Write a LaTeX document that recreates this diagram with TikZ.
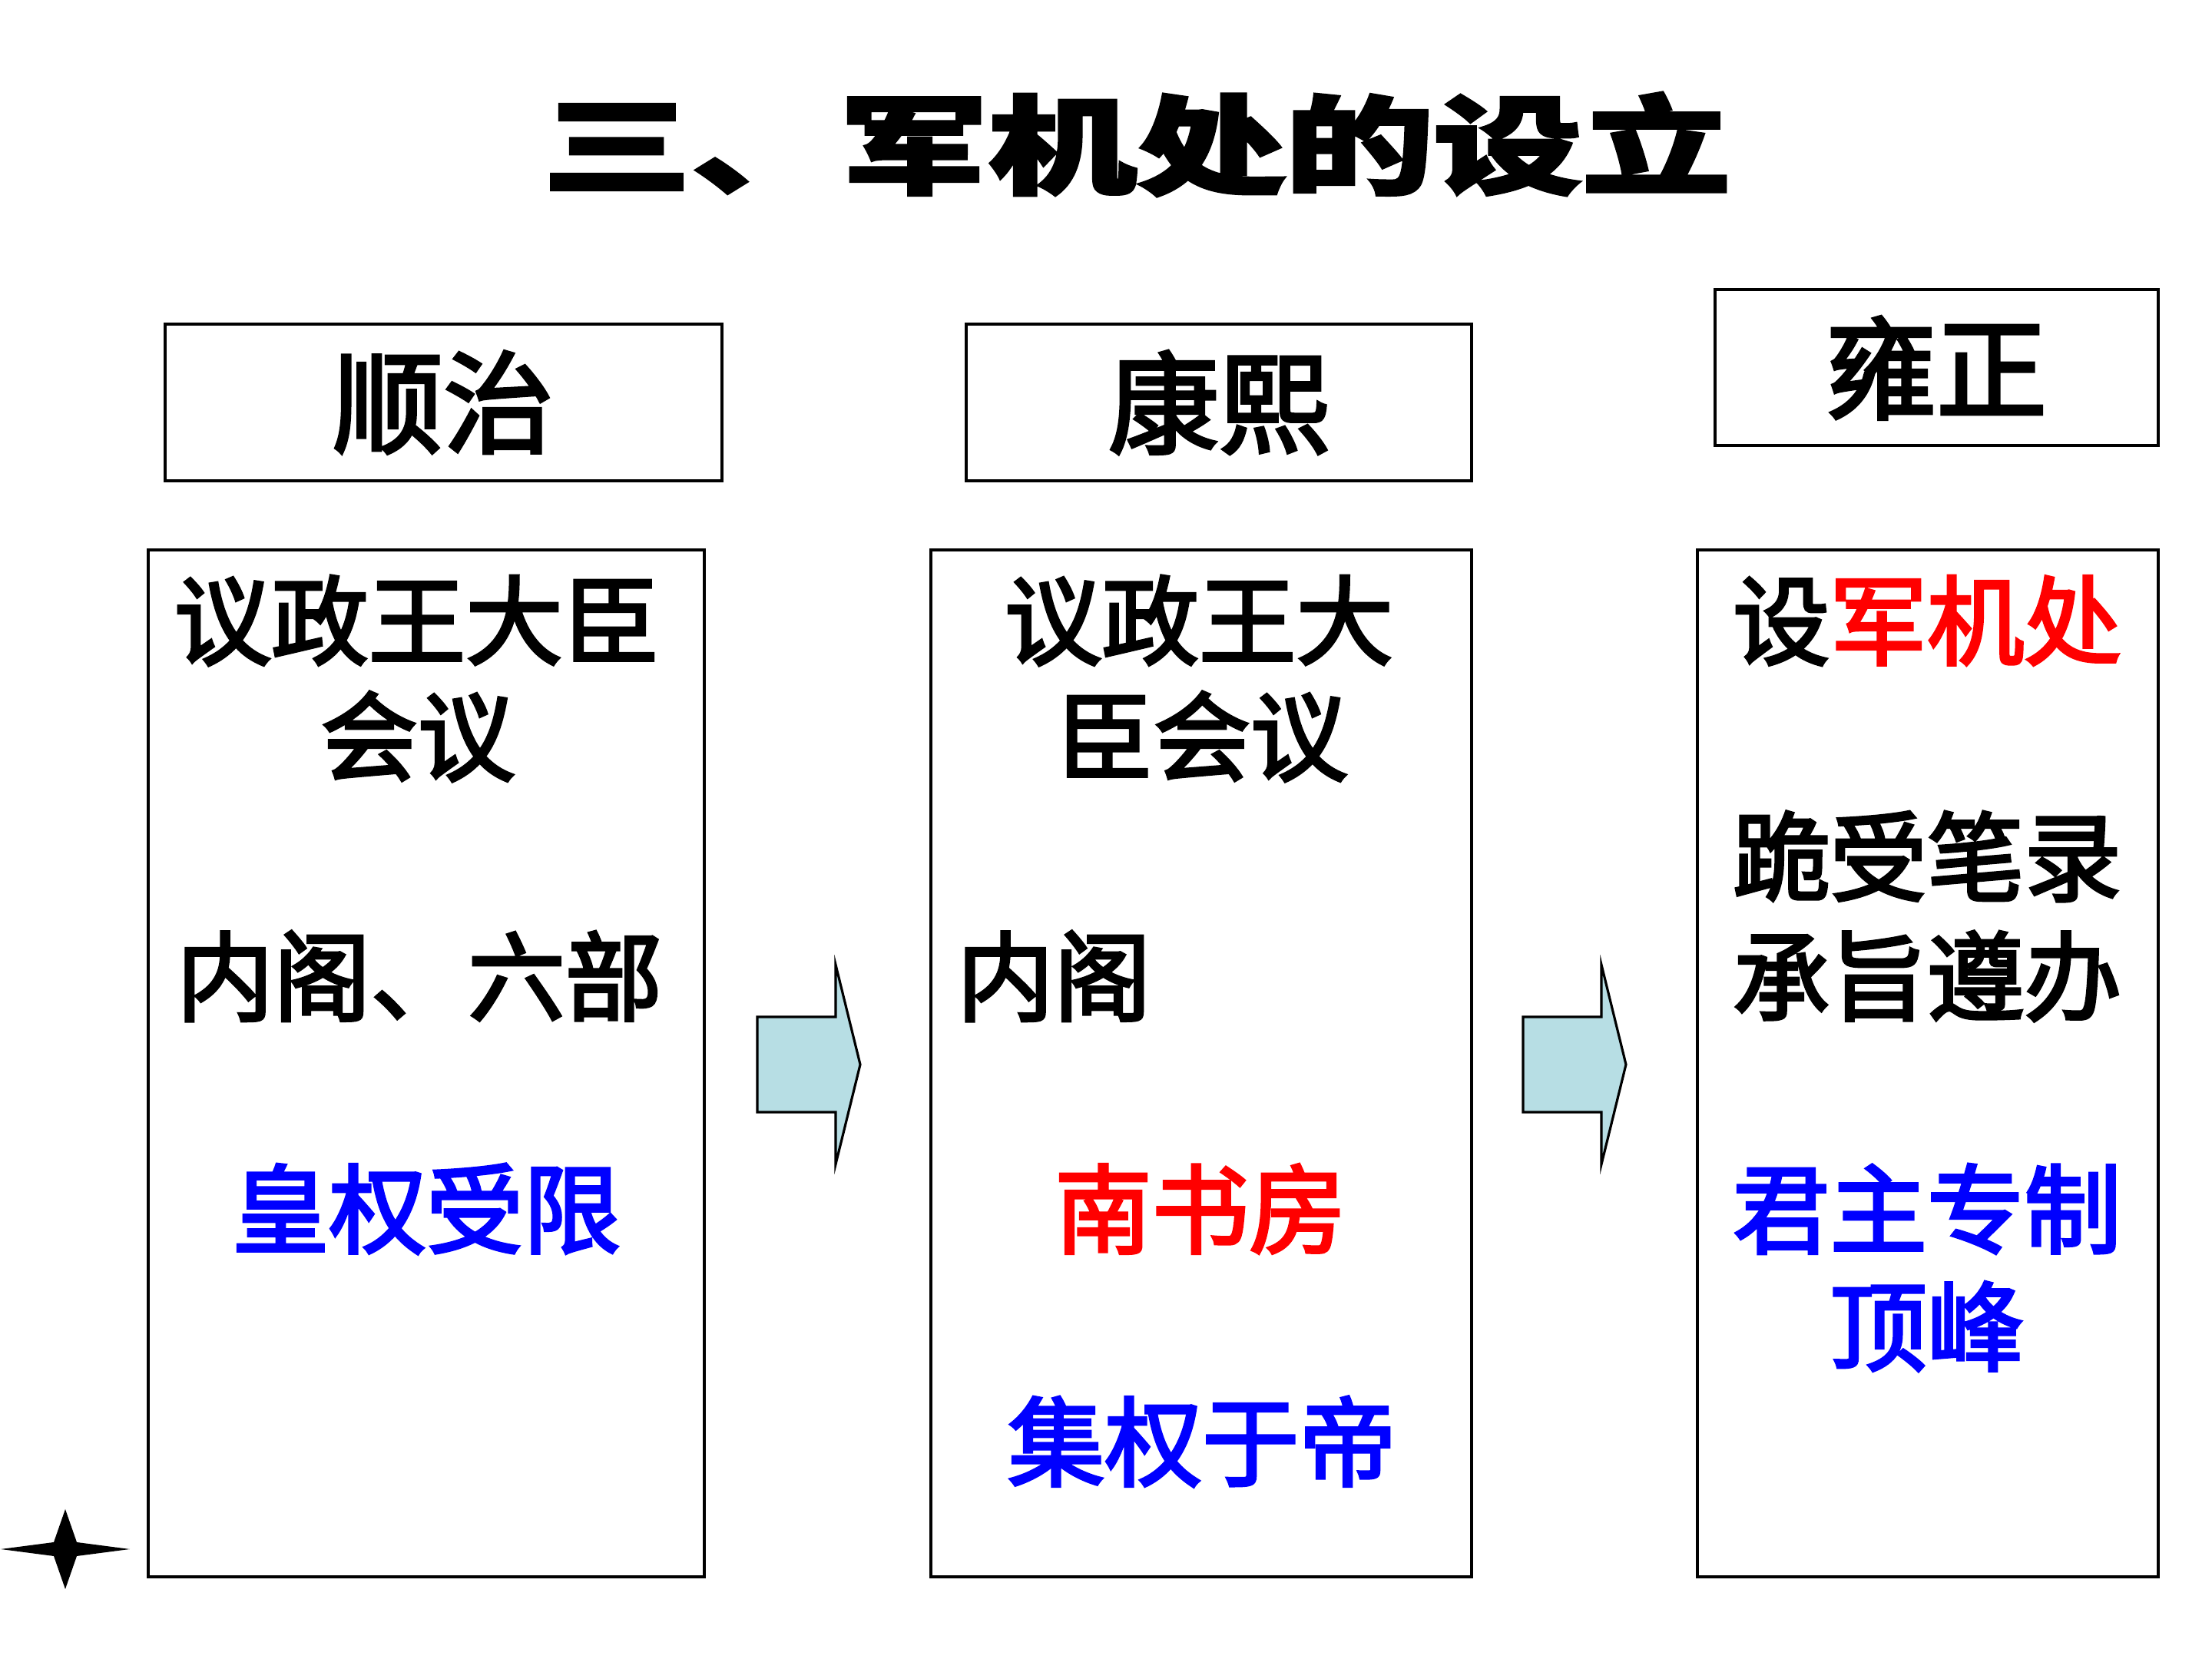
\documentclass[tikz,border=0pt]{standalone}
\usepackage{fontspec}
\usepackage{graphicx}
\newfontfamily\cjk[FakeBold=3]{Noto Sans CJK SC}
\newfontfamily\cjktitle[BoldFeatures={FakeBold=2.5}]{Noto Sans CJK SC}
\definecolor{arrowcyan}{RGB}{183,222,228}
\definecolor{textred}{RGB}{255,0,0}
\definecolor{textblue}{RGB}{0,0,255}
\tikzset{
  frame/.style={draw=black, line width=0.9pt},
  fatarrow/.style={draw=black, fill=arrowcyan, line width=0.9pt, line join=miter},
  headtext/.style={font=\cjk\fontsize{41}{46}\selectfont, inner sep=0pt},
  bodytext/.style={font=\cjk\fontsize{36}{40}\selectfont, inner sep=0pt}
}
\def\fatarrow(#1,#2){\draw[fatarrow] (#1,#2+0.62) -- (#1+1.02,#2+0.62) -- (#1+1.02,#2+1.30) -- (#1+1.34,#2) -- (#1+1.02,#2-1.30) -- (#1+1.02,#2-0.62) -- (#1,#2-0.62) -- cycle;}

\begin{document}
\begin{tikzpicture}
				%%%%% START %%%%%
				\useasboundingbox (0, 0) rectangle (28.8, 21.6);
				
				\node[inner sep=0pt] (title) at (14.80, 19.72) {\scalebox{1}[0.72]{\cjktitle\bfseries\fontsize{55}{60}\selectfont 三、军机处的设立}};
				
				% header boxes
				\draw[frame] (2.15, 17.38) rectangle (9.40, 15.34);
				\node[headtext] (shunzhi) at (5.77, 16.36) {顺治};
				
				\draw[frame] (12.58, 17.38) rectangle (19.16, 15.34);
				\node[headtext] (kangxi) at (15.87, 16.36) {康熙};
				
				\draw[frame] (22.33, 17.83) rectangle (28.10, 15.80);
				\node[headtext] (yongzheng) at (25.21, 16.81) {雍正};
				
				% body boxes
				\draw[frame] (1.93, 14.44) rectangle (9.17, 1.07);
				\node[bodytext] (sz1) at (5.43, 13.52) {议政王大臣};
				\node[bodytext] (sz2) at (5.44, 12.01) {会议};
				\node[bodytext] (sz3) at (5.46, 8.89) {内阁、六部};
				\node[bodytext, text=textblue] (sz4) at (5.55, 5.86) {皇权受限};
				
				\draw[frame] (12.12, 14.44) rectangle (19.16, 1.07);
				\node[bodytext] (kx1) at (15.61, 13.52) {议政王大};
				\node[bodytext] (kx2) at (15.65, 12.01) {臣会议};
				\node[bodytext, anchor=west] (kx3) at (12.45, 8.89) {内阁};
				\node[bodytext, text=textred] (kx4) at (15.63, 5.86) {南书房};
				\node[bodytext, text=textblue] (kx5) at (15.65, 2.83) {集权于帝};
				
				\draw[frame] (22.10, 14.44) rectangle (28.10, 1.07);
				\node[bodytext] (yz1) at (25.09, 13.52) {设\textcolor{textred}{军机处}};
				\node[bodytext] (yz2) at (25.09, 10.45) {跪受笔录};
				\node[bodytext] (yz3) at (25.09, 8.89) {承旨遵办};
				\node[bodytext, text=textblue] (yz4) at (25.09, 5.86) {君主专制};
				\node[bodytext, text=textblue] (yz5) at (25.09, 4.33) {顶峰};
				
				% arrows between columns
				\fatarrow(9.86, 7.74)
				\fatarrow(19.83, 7.74)
				
				% star mark
				\fill (1.69, 1.43) -- (1.00, 1.52) -- (0.85, 1.95) -- (0.70, 1.52) -- (0.01, 1.43) -- (0.70, 1.34) -- (0.85, 0.91) -- (1.00, 1.34) -- cycle;
				%%%%% END %%%%%
			\end{tikzpicture}
\end{document}
